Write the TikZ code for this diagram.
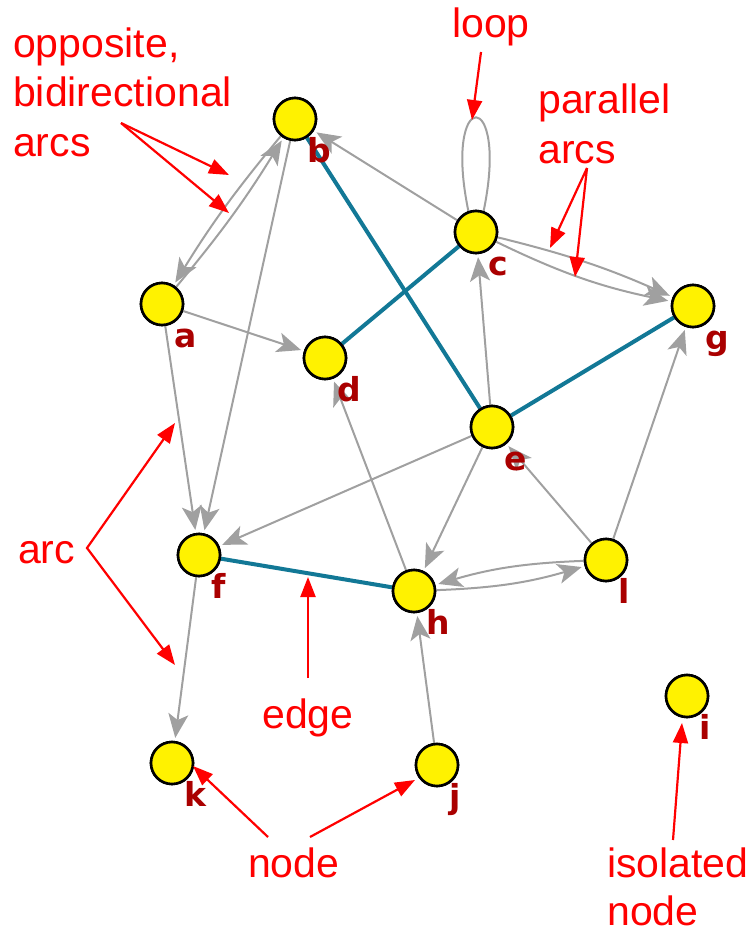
\documentclass[tikz,border=0pt]{standalone}
\usepackage{fontspec}
\setmainfont{Liberation Sans}
\newfontfamily\lblfont{DejaVu Sans}
\usetikzlibrary{arrows.meta}
\definecolor{arcgray}{RGB}{160,160,160}
\definecolor{edgeteal}{RGB}{18,120,150}
\definecolor{lblred}{RGB}{170,0,0}
\definecolor{annred}{RGB}{255,0,0}
\tikzset{
  vtx/.style={circle, draw=black, fill=yellow, line width=2.6pt, minimum size=42pt, inner sep=0pt},
  arcl/.style={draw=arcgray, line width=2pt, -{Stealth[length=24pt,width=20pt,inset=6pt]}, shorten >=3pt},
  loopl/.style={draw=arcgray, line width=2pt},
  edgel/.style={draw=edgeteal, line width=4pt},
  vlbl/.style={anchor=base west, text=lblred, font=\lblfont\bfseries\fontsize{33}{33}\selectfont, inner sep=0pt},
  ann/.style={text=annred, font=\fontsize{41}{50}\selectfont, anchor=base west, inner sep=0pt, align=left},
  annarrow/.style={draw=annred, line width=2.2pt, -{Triangle[length=20pt,width=15pt]}},
  annarrow2/.style={draw=annred, line width=2.2pt, {Triangle[length=20pt,width=15pt]}-{Triangle[length=20pt,width=15pt]}}
}
\begin{document}
\begin{tikzpicture}[x=1pt,y=1pt]
\useasboundingbox (0,0) rectangle (754,-931);
% nodes
\node[vtx] (b) at (295,-119) {};
\node[vtx] (c) at (476,-232) {};
\node[vtx] (a) at (162,-304) {};
\node[vtx] (g) at (693,-306) {};
\node[vtx] (d) at (325,-358) {};
\node[vtx] (e) at (492,-427) {};
\node[vtx] (f) at (199,-555) {};
\node[vtx] (h) at (414,-591) {};
\node[vtx] (l) at (606,-560) {};
\node[vtx] (i) at (687,-696) {};
\node[vtx] (k) at (172,-763) {};
\node[vtx] (j) at (437,-765) {};
% arcs
\draw[arcl] (b) to[bend right=4] (a);
\draw[arcl] (a) to[bend right=4] (b);
\draw[arcl] (b) -- (f);
\draw[arcl] (a) -- (f);
\draw[arcl] (a) -- (d);
\draw[arcl] (c) -- (b);
\draw[arcl] (c) to[bend left=5] (g);
\draw[arcl] (c) to[bend right=7] (g);
\draw[arcl] (e) -- (c);
\draw[arcl] (l) -- (g);
\draw[arcl] (e) -- (f);
\draw[arcl] (e) -- (h);
\draw[arcl] (h) -- (d);
\draw[arcl] (l) -- (e);
\draw[arcl] (h) to[bend right=7] (l);
\draw[arcl] (l) to[bend right=7] (h);
\draw[arcl] (j) -- (h);
\draw[arcl] (f) -- (k);
\draw[loopl] (c.110) .. controls +(-26,125) and +(26,125) .. (c.70);
% edges
\draw[edgel] (b) -- (e);
\draw[edgel] (d) -- (c);
\draw[edgel] (e) -- (g);
\draw[edgel] (f) -- (h);
% redraw nodes on top
\foreach \n in {a,b,c,d,e,f,g,h,i,j,k,l} {\node[vtx] at (\n) {};}
% vertex labels
\foreach \n in {a,b,c,d,e,f,g,h,i,j,k,l} {\node[vlbl] (lbl\n) at ([shift={(12,-43)}]\n.center) {\n};}
% annotations
\node[ann] (topp) at (13,-157) {opposite,\\bidirectional\\arcs};
\node[ann] (tloop) at (452,-38) {loop};
\node[ann] (tpar) at (538,-163) {parallel\\arcs};
\node[ann] (tarc) at (18,-563) {arc};
\node[ann] (tedge) at (262,-728) {edge};
\node[ann] (tnode) at (248,-877) {node};
\node[ann] (tiso) at (607,-877) {isolated};
\node[ann] (tiso2) at (607,-925) {node};
\coordinate (oppS) at (121,-123);
\coordinate (oppT1) at (229,-175);
\coordinate (oppT2) at (229,-213);
\draw[annarrow] (oppS) -- (oppT1);
\draw[annarrow] (oppS) -- (oppT2);
\coordinate (loopS) at (481,-52);
\coordinate (loopT) at (472,-120);
\draw[annarrow] (loopS) -- (loopT);
\coordinate (parS) at (587,-168);
\coordinate (parT1) at (550,-248);
\coordinate (parT2) at (575,-277);
\draw[annarrow] (parS) -- (parT1);
\draw[annarrow] (parS) -- (parT2);
\coordinate (arcT1) at (175,-423);
\coordinate (arcV) at (87,-548);
\coordinate (arcT2) at (175,-665);
\draw[annarrow2] (arcT1) -- (arcV) -- (arcT2);
\coordinate (edgeS) at (308,-678);
\coordinate (edgeT) at (308,-577);
\draw[annarrow] (edgeS) -- (edgeT);
\coordinate (nodeS1) at (268,-837);
\coordinate (nodeT1) at (193,-766);
\coordinate (nodeS2) at (310,-837);
\coordinate (nodeT2) at (415,-780);
\draw[annarrow] (nodeS1) -- (nodeT1);
\draw[annarrow] (nodeS2) -- (nodeT2);
\coordinate (isoS) at (673,-840);
\coordinate (isoT) at (682,-723);
\draw[annarrow] (isoS) -- (isoT);
\end{tikzpicture}
\end{document}
